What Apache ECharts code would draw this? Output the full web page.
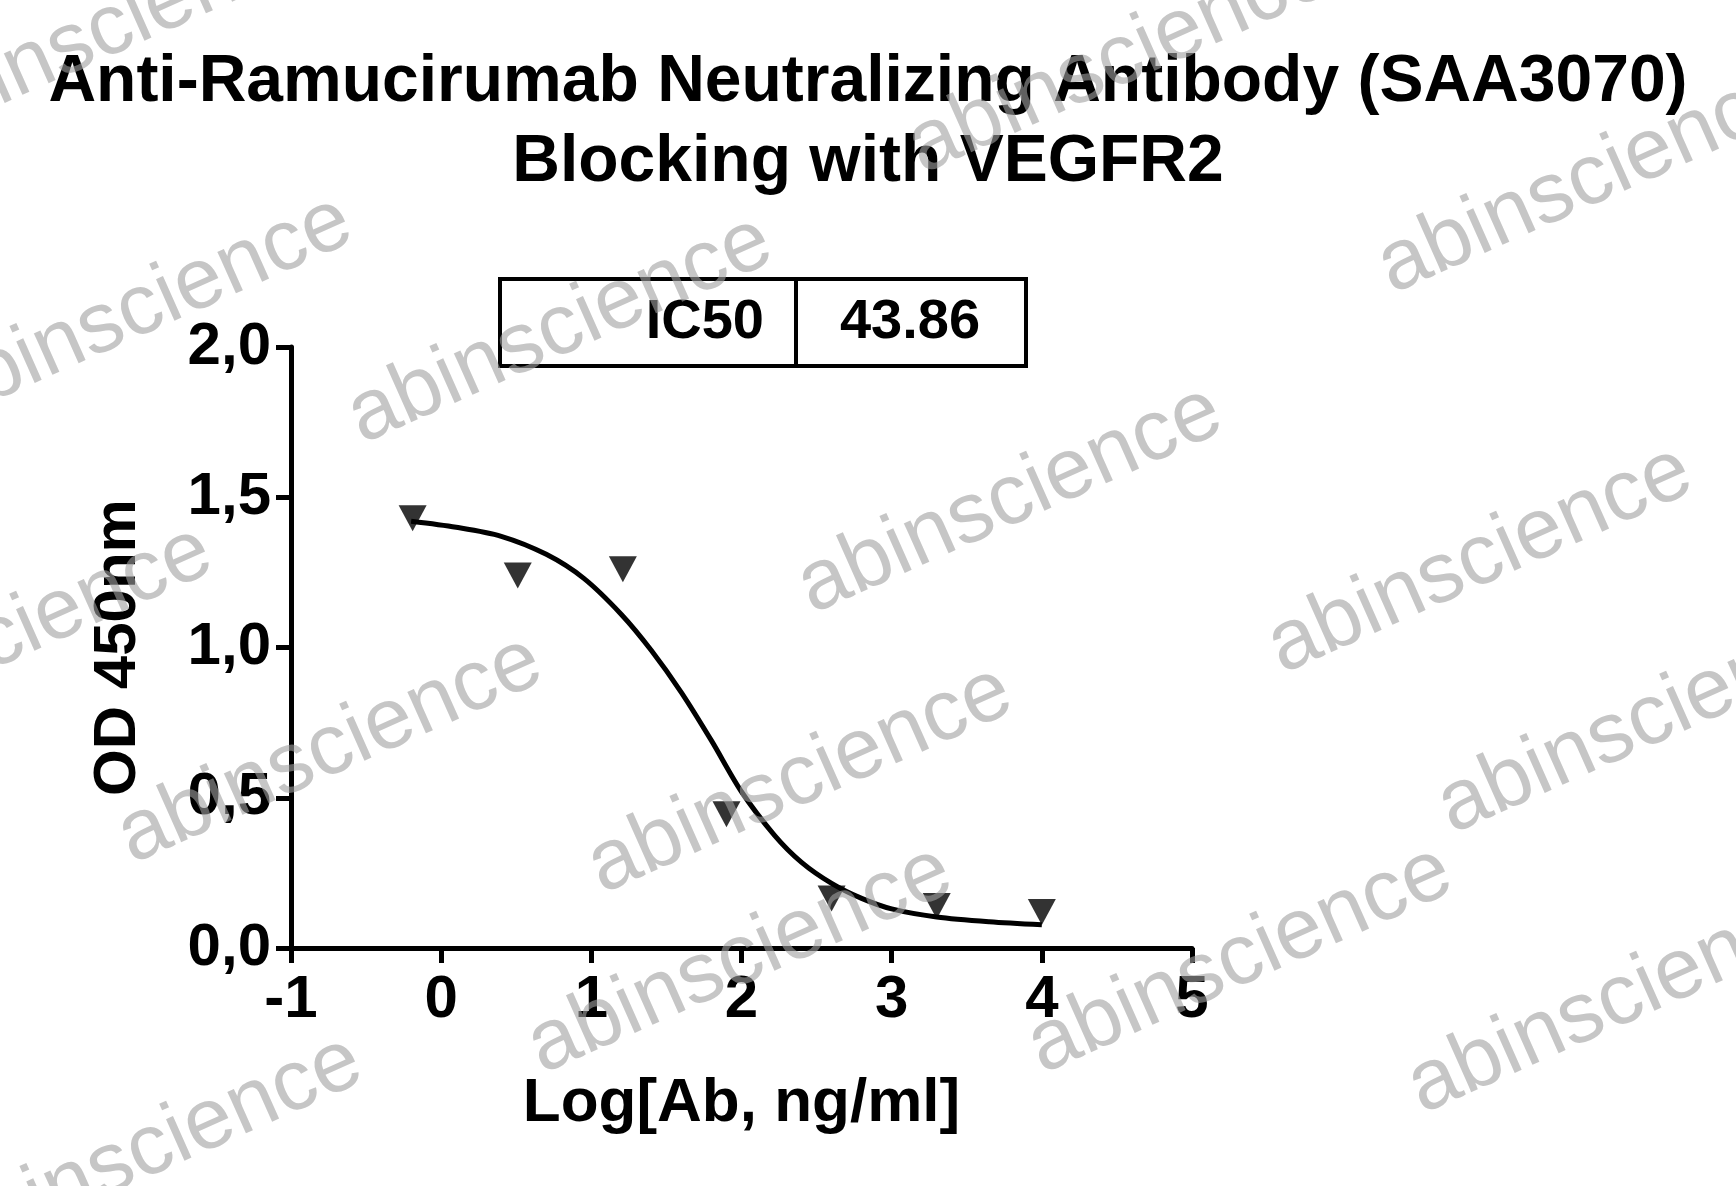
<!DOCTYPE html>
<html><head><meta charset="utf-8">
<script src="https://cdn.jsdelivr.net/npm/echarts@6/dist/echarts.min.js"></script>
<style>html,body{margin:0;padding:0;background:#fff}#c{width:1736px;height:1186px}</style>
</head><body><div id="c"></div>
<script>
const logConc = [-0.19, 0.51, 1.21, 1.90, 2.60, 3.30, 4.00];
const od = [1.43, 1.24, 1.26, 0.445, 0.165, 0.14, 0.12];
const curveX = [-0.2, 0.1, 0.4, 0.7, 0.95, 1.2, 1.4, 1.6, 1.8, 2.0, 2.22, 2.4, 2.6, 2.8, 3.0, 3.3, 3.65, 4.0];
const curveY = [1.42, 1.40, 1.37, 1.31, 1.23, 1.11, 0.99, 0.85, 0.69, 0.52, 0.375, 0.285, 0.215, 0.165, 0.13, 0.103, 0.087, 0.077];
const xTicks = [-1, 0, 1, 2, 3, 4, 5];
const yTicks = [0, 0.5, 1.0, 1.5, 2.0];
const ic50Label = 'IC50', ic50Value = '43.86';

const chart = echarts.init(document.getElementById('c'));
const F = 'Liberation Sans, Arial, sans-serif';
const wm = [];
const wmPos = [[110,30],[1120,60],[1590,180],[140,310],[560,330],[1010,500],[1480,560],[0,640],[330,750],[800,780],[1650,720],[1240,960],[1620,1000],[740,960],[150,1150]];
wmPos.forEach(p => wm.push({type:'text', x:p[0], y:p[1], rotation:Math.PI*24/180, z:100,
  style:{text:'abinscience', font:'86px '+F, fill:'rgba(160,160,160,0.6)', align:'center', verticalAlign:'middle'}}));

chart.setOption({
  animation:false,
  title:{text:'Anti-Ramucirumab Neutralizing Antibody (SAA3070)\nBlocking with VEGFR2', left:'center', top:38,
    textStyle:{fontFamily:F, fontWeight:'bold', fontSize:66, lineHeight:80, color:'#000'}},
  grid:{left:291, right:544, top:347, bottom:238},
  xAxis:{type:'value', min:-1, max:5, interval:1,
    name:'Log[Ab, ng/ml]', nameLocation:'middle', nameGap:125,
    nameTextStyle:{fontFamily:F, fontWeight:'bold', fontSize:62, color:'#000'},
    axisLine:{onZero:false, lineStyle:{color:'#000', width:5}}, axisTick:{length:15, lineStyle:{width:5, color:'#000'}},
    axisLabel:{fontFamily:F, fontWeight:'bold', fontSize:60, color:'#000', margin:22, formatter:v=>xTicks.includes(v)?String(v):''},
    splitLine:{show:false}},
  yAxis:{type:'value', min:0, max:2, interval:0.5,
    name:'OD 450nm', nameLocation:'middle', nameGap:143,
    nameTextStyle:{fontFamily:F, fontWeight:'bold', fontSize:60, color:'#000'},
    axisLine:{show:true, onZero:false, lineStyle:{color:'#000', width:5}}, axisTick:{show:true, length:15, lineStyle:{width:5, color:'#000'}},
    axisLabel:{fontFamily:F, fontWeight:'bold', fontSize:60, color:'#000', margin:20,
      formatter:v=>yTicks.includes(v)?v.toFixed(1).replace('.',','):''},
    splitLine:{show:false}},
  series:[
    {type:'line', data:curveX.map((x,i)=>[x,curveY[i]]), smooth:0.3, showSymbol:false,
      lineStyle:{color:'#000', width:5}},
    {type:'scatter', data:logConc.map((x,i)=>[x,od[i]]), symbol:'triangle', symbolRotate:180, symbolSize:[28,26],
      itemStyle:{color:'#000'}}
  ],
  graphic:[
    {type:'rect', shape:{x:500, y:279, width:526, height:87}, style:{fill:'none', stroke:'#000', lineWidth:4}},
    {type:'line', shape:{x1:796, y1:279, x2:796, y2:366}, style:{stroke:'#000', lineWidth:4}},
    {type:'text', x:764, y:323, style:{text:ic50Label, font:'bold 56px '+F, fill:'#000', align:'right', verticalAlign:'middle'}},
    {type:'text', x:910, y:323, style:{text:ic50Value, font:'bold 56px '+F, fill:'#000', align:'center', verticalAlign:'middle'}}
  ].concat(wm)
});
</script></body></html>
